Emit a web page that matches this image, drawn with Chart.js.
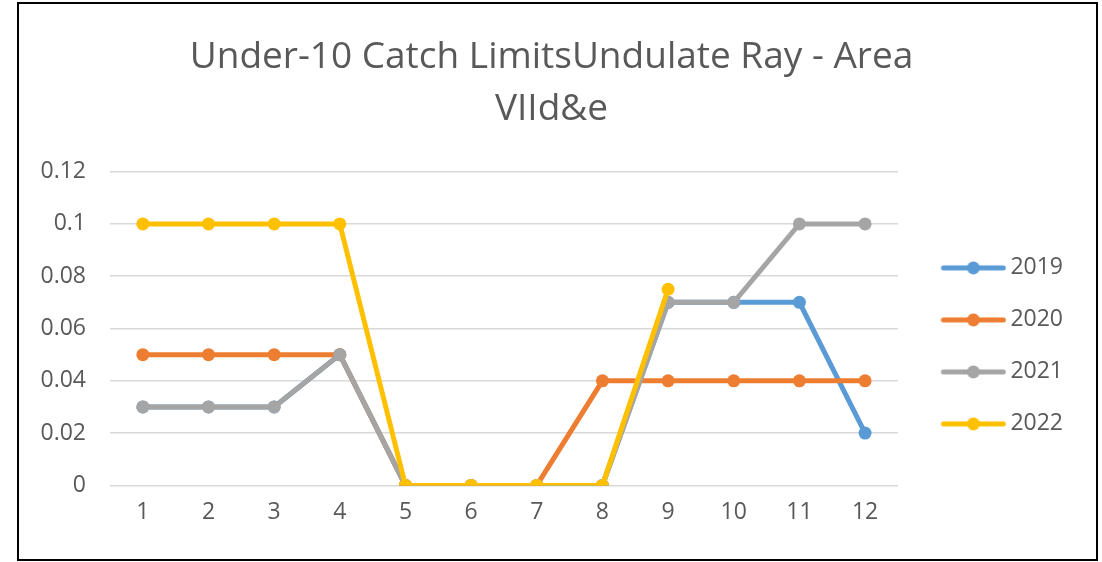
<!DOCTYPE html>
<html>
<head>
<meta charset="utf-8">
<script src="https://cdn.jsdelivr.net/npm/chart.js@4"></script>
<style>
  html, body { margin: 0; padding: 0; background: #fff; }
  #frame {
    position: absolute; left: 17px; top: 2px;
    width: 1081px; height: 559px;
    border: 2px solid #000; box-sizing: border-box;
  }
  #chart { display: block; }
</style>
</head>
<body>
<div id="frame"><canvas id="chart" width="1077" height="555"></canvas></div>
<script>
// Data
const months = ['1', '2', '3', '4', '5', '6', '7', '8', '9', '10', '11', '12'];
const years = ['2019', '2020', '2021', '2022'];
const limits2019 = [0.03, 0.03, 0.03, 0.05, 0, 0, 0, 0, 0.07, 0.07, 0.07, 0.02];
const limits2020 = [0.05, 0.05, 0.05, 0.05, 0, 0, 0, 0.04, 0.04, 0.04, 0.04, 0.04];
const limits2021 = [0.03, 0.03, 0.03, 0.05, 0, 0, 0, 0, 0.07, 0.07, 0.1, 0.1];
const limits2022 = [0.1, 0.1, 0.1, 0.1, 0, 0, 0, 0, 0.075, null, null, null];
const colors = ['#5B9BD5', '#ED7D31', '#A5A5A5', '#FFC000'];

const textGrey = '#595959';
Chart.defaults.font.family = '"Open Sans", sans-serif';
Chart.defaults.color = textGrey;

// legend marker: a short line with a dot in the middle (Excel style)
const markerBox = 72;
function makeMarker(color) {
    const c = document.createElement('canvas');
    c.width = markerBox + 15;
    c.height = 14;
    const g = c.getContext('2d');
    g.strokeStyle = color;
    g.lineWidth = 5;
    g.lineCap = 'round';
    g.beginPath();
    g.moveTo(c.width - 63, 7);
    g.lineTo(c.width - 3, 7);
    g.stroke();
    g.fillStyle = color;
    g.beginPath();
    g.arc(c.width - 33, 7, 6.5, 0, Math.PI * 2);
    g.fill();
    return c;
}
const markers = colors.map(makeMarker);

function series(label, data, color, order) {
    return {
        label: label,
        data: data,
        borderColor: color,
        backgroundColor: color,
        borderWidth: 5,
        pointRadius: 6.5,
        pointBorderWidth: 0,
        pointBackgroundColor: color,
        tension: 0,
        spanGaps: false,
        order: order
    };
}

const ctx = document.getElementById('chart').getContext('2d');
new Chart(ctx, {
    type: 'line',
    data: {
        labels: months,
        datasets: [
            series(years[0], limits2019, colors[0], 3),
            series(years[1], limits2020, colors[1], 2),
            series(years[2], limits2021, colors[2], 1),
            series(years[3], limits2022, colors[3], 0)
        ]
    },
    options: {
        responsive: false,
        animation: false,
        layout: { padding: { left: 11, right: 23, top: 0, bottom: 28 } },
        plugins: {
            title: {
                display: true,
                text: ['Under-10 Catch LimitsUndulate Ray - Area', 'VIId&e'],
                color: textGrey,
                font: { size: 37, weight: 'normal', lineHeight: 1.4 },
                padding: { top: 28, bottom: 36 }
            },
            legend: {
                position: 'right',
                align: 'start',
                // blank title only pushes the items down to where Excel puts them
                title: { display: true, text: ' ', padding: { top: 0, bottom: 209 } },
                labels: {
                    usePointStyle: true,
                    pointStyleWidth: markerBox,
                    padding: 29,
                    color: textGrey,
                    font: { size: 23 },
                    sort: (a, b) => a.datasetIndex - b.datasetIndex,
                    generateLabels: (chart) => {
                        const items = Chart.defaults.plugins.legend.labels.generateLabels(chart);
                        items.forEach((it) => { it.pointStyle = markers[it.datasetIndex]; });
                        return items;
                    }
                }
            },
            tooltip: { enabled: false }
        },
        scales: {
            x: {
                offset: true,
                grid: { display: false },
                border: { display: false },
                ticks: { padding: 5, font: { size: 23 }, color: textGrey }
            },
            y: {
                min: 0,
                max: 0.12,
                afterFit: (s) => { s.width = 80; },
                grid: { color: '#D9D9D9', lineWidth: 1.5, drawTicks: false },
                border: { display: false },
                ticks: {
                    stepSize: 0.02,
                    padding: 24,
                    font: { size: 23 },
                    color: textGrey,
                    callback: (v) => String(Number(v.toFixed(2)))
                }
            }
        }
    }
});
</script>
</body>
</html>
